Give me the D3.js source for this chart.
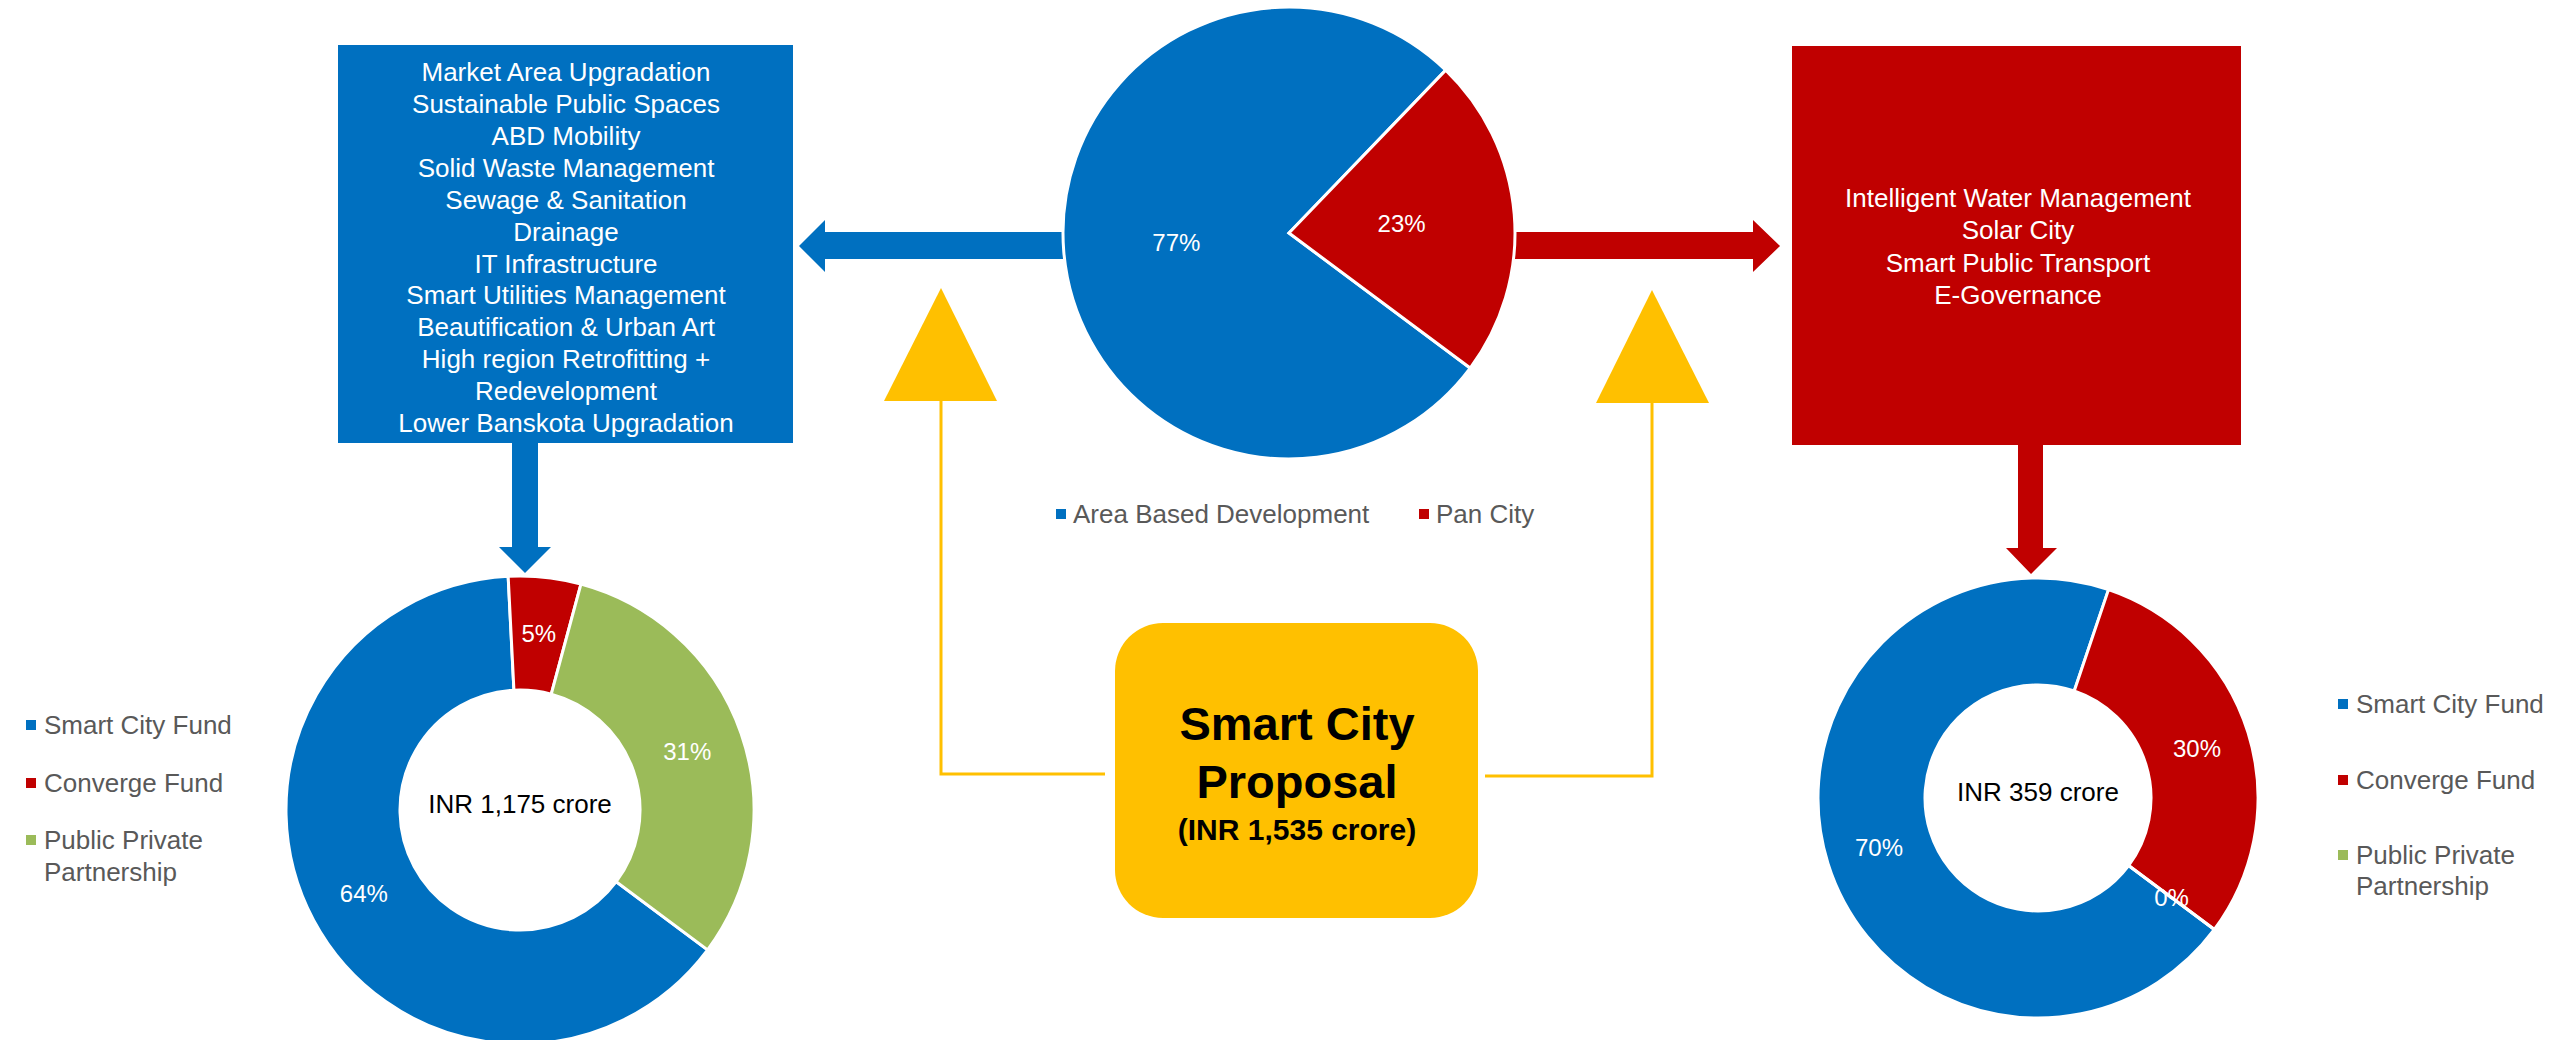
<!DOCTYPE html>
<html>
<head>
<meta charset="utf-8">
<script src="https://cdn.jsdelivr.net/npm/d3@7"></script>
<style>
  html, body { margin: 0; padding: 0; background: #ffffff; }
  svg { display: block; }
  text { font-family: "Liberation Sans", Arial, Helvetica, sans-serif; }
</style>
</head>
<body>
<script>
// ---------------- DATA ----------------
const splitCategories = ["Area Based Development", "Pan City"];
const splitValues = [77, 23];

const abdProjects = [
  "Market Area Upgradation",
  "Sustainable Public Spaces",
  "ABD Mobility",
  "Solid Waste Management",
  "Sewage & Sanitation",
  "Drainage",
  "IT Infrastructure",
  "Smart Utilities Management",
  "Beautification & Urban Art",
  "High region Retrofitting +",
  "Redevelopment",
  "Lower Banskota Upgradation"
];
const panCityProjects = [
  "Intelligent Water Management",
  "Solar City",
  "Smart Public Transport",
  "E-Governance"
];

const fundCategories = ["Smart City Fund", "Converge Fund", "Public Private Partnership"];
const fundLegendLines = [["Smart City Fund"], ["Converge Fund"], ["Public Private", "Partnership"]];
const abdFundValues = [64, 5, 31];
const panFundValues = [70, 30, 0];

const abdTotalLabel = "INR 1,175 crore";
const panTotalLabel = "INR 359 crore";
const proposalTitle = ["Smart City", "Proposal"];
const proposalSub = "(INR 1,535 crore)";

// ---------------- STYLE ----------------
const BLUE = "#0070C0", RED = "#C00000", GREEN = "#9BBB59", YELLOW = "#FFC000", GREY = "#595959";
const W = 2575, H = 1040;
const startDeg = 126.7;
const start = startDeg * Math.PI / 180;

const svg = d3.select("body").append("svg").attr("width", W).attr("height", H);

// colour scales
const splitColor = d3.scaleOrdinal().domain(splitCategories).range([BLUE, RED]);
const fundColor = d3.scaleOrdinal().domain(fundCategories).range([BLUE, RED, GREEN]);

// ---------------- CONNECTORS ----------------
const g0 = svg.append("g");
const lineGen = d3.line();
// yellow connector lines
g0.append("path").attr("d", lineGen([[941, 395], [941, 774], [1105, 774]]))
  .attr("fill", "none").attr("stroke", YELLOW).attr("stroke-width", 3);
g0.append("path").attr("d", lineGen([[1485, 776], [1652, 776], [1652, 395]]))
  .attr("fill", "none").attr("stroke", YELLOW).attr("stroke-width", 3);
// yellow triangles
g0.append("path").attr("d", lineGen([[941, 288], [997, 401], [884, 401]]) + "Z").attr("fill", YELLOW);
g0.append("path").attr("d", lineGen([[1652, 290], [1709, 403], [1596, 403]]) + "Z").attr("fill", YELLOW);

// blue left arrow
g0.append("path").attr("d", lineGen([[1080, 232], [825, 232], [825, 220], [799, 246], [825, 272], [825, 259], [1080, 259]]) + "Z").attr("fill", BLUE);
// red right arrow
g0.append("path").attr("d", lineGen([[1500, 232], [1753, 232], [1753, 220], [1780, 246], [1753, 272], [1753, 259], [1500, 259]]) + "Z").attr("fill", RED);
// blue down arrow
g0.append("path").attr("d", lineGen([[512, 440], [538, 440], [538, 547], [551, 547], [525, 573], [499, 547], [512, 547]]) + "Z").attr("fill", BLUE);
// red down arrow
g0.append("path").attr("d", lineGen([[2018, 440], [2043, 440], [2043, 548], [2057, 548], [2031, 574], [2006, 548], [2018, 548]]) + "Z").attr("fill", RED);

// ---------------- BOXES ----------------
function textBox(x, y, w, h, fill, lines, firstY, step, cx) {
  const g = svg.append("g");
  g.append("rect").attr("x", x).attr("y", y).attr("width", w).attr("height", h).attr("fill", fill);
  g.selectAll("text").data(lines).join("text")
    .attr("x", cx).attr("y", (d, i) => firstY + i * step).attr("dy", "0.35em")
    .attr("text-anchor", "middle").attr("fill", "#ffffff").attr("font-size", 26)
    .text(d => d);
}
textBox(338, 45, 455, 398, BLUE, abdProjects, 72, 31.9, 566);
textBox(1792, 46, 449, 399, RED, panCityProjects, 198, 32.2, 2018);

// proposal box
const pg = svg.append("g");
pg.append("rect").attr("x", 1115).attr("y", 623).attr("width", 363).attr("height", 295)
  .attr("rx", 48).attr("ry", 48).attr("fill", YELLOW);
pg.selectAll("text.t").data(proposalTitle).join("text").attr("class", "t")
  .attr("x", 1297).attr("y", (d, i) => 740 + i * 58)
  .attr("text-anchor", "middle").attr("font-size", 47).attr("font-weight", "bold").attr("fill", "#000")
  .text(d => d);
pg.append("text").attr("x", 1297).attr("y", 840).attr("text-anchor", "middle")
  .attr("font-size", 30).attr("font-weight", "bold").attr("fill", "#000").text(proposalSub);

// ---------------- PIES ----------------
function drawPie(cx, cy, rOuter, rInner, cats, vals, color, center) {
  const pie = d3.pie().sort(null).startAngle(start).endAngle(start + 2 * Math.PI);
  const data = pie(vals).map((a, i) => Object.assign(a, { cat: cats[i] }));
  const arc = d3.arc().innerRadius(rInner).outerRadius(rOuter);
  const g = svg.append("g").attr("transform", `translate(${cx},${cy})`);
  g.selectAll("path").data(data).join("path")
    .attr("d", arc).attr("fill", d => color(d.cat))
    .attr("stroke", "#ffffff").attr("stroke-width", 3).attr("stroke-linejoin", "miter");
  g.selectAll("text.lbl").data(data).join("text").attr("class", "lbl")
    .attr("transform", d => `translate(${arc.centroid(d)})`)
    .attr("dy", "0.35em").attr("text-anchor", "middle")
    .attr("fill", "#ffffff").attr("font-size", 24)
    .text(d => d3.format(".0f")(d.value) + "%");
  if (center) {
    g.append("text").attr("x", 0).attr("y", -6).attr("dy", "0.35em").attr("text-anchor", "middle")
      .attr("fill", "#000").attr("font-size", 26).text(center);
  }
}
drawPie(1289, 233, 226, 0, splitCategories, splitValues, splitColor, null);
drawPie(520, 810, 234, 120, fundCategories, abdFundValues, fundColor, abdTotalLabel);
drawPie(2038, 798, 220, 113, fundCategories, panFundValues, fundColor, panTotalLabel);

// ---------------- LEGENDS ----------------
// split legend (horizontal)
const sl = svg.append("g");
const splitLegendX = [1056, 1419];
splitCategories.forEach((c, i) => {
  sl.append("rect").attr("x", splitLegendX[i]).attr("y", 509).attr("width", 10).attr("height", 10).attr("fill", splitColor(c));
  sl.append("text").attr("x", splitLegendX[i] + 17).attr("y", 514).attr("dy", "0.35em")
    .attr("fill", GREY).attr("font-size", 26).text(c);
});

function fundLegend(x, ys, lineStep) {
  const g = svg.append("g");
  fundCategories.forEach((c, i) => {
    g.append("rect").attr("x", x).attr("y", ys[i] - 5).attr("width", 10).attr("height", 10).attr("fill", fundColor(c));
    g.selectAll(null).data(fundLegendLines[i]).join("text")
      .attr("x", x + 18).attr("y", (d, j) => ys[i] + j * lineStep).attr("dy", "0.35em")
      .attr("fill", GREY).attr("font-size", 26).text(d => d);
  });
}
fundLegend(26, [725, 783, 840], 32);
fundLegend(2338, [704, 780, 855], 31);
</script>
</body>
</html>
